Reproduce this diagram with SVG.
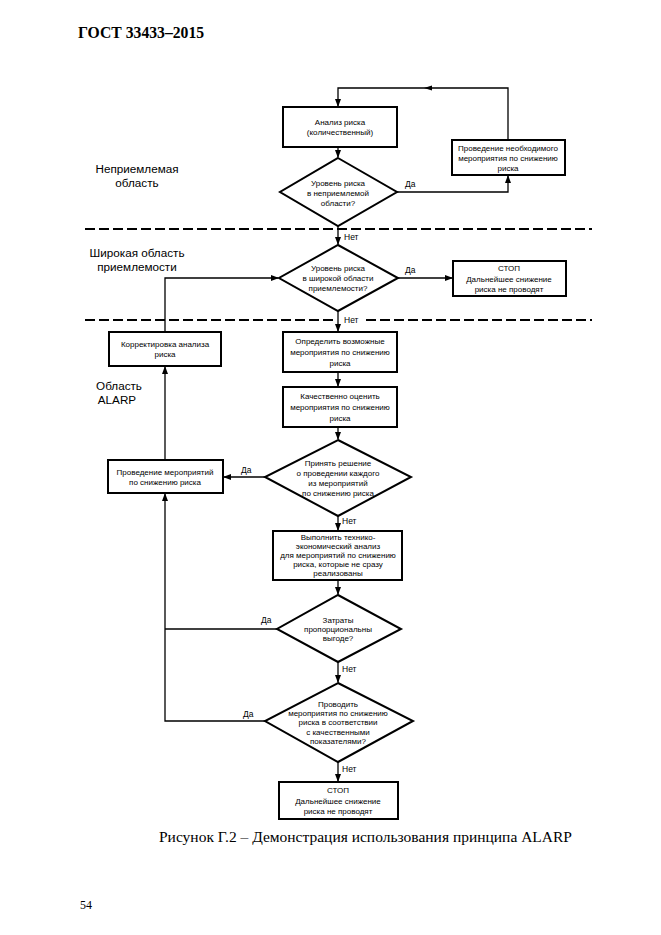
<svg xmlns="http://www.w3.org/2000/svg" width="661" height="935" viewBox="0 0 661 935">
<defs>
<marker id="ah" markerWidth="8" markerHeight="6" refX="7" refY="3" orient="auto" markerUnits="userSpaceOnUse">
<path d="M0,0 L8,3 L0,6 z" fill="#000"/>
</marker>
<style>
.box{fill:#fff;stroke:#000;stroke-width:2}
.dia{fill:#fff;stroke:#000;stroke-width:2}
.ln{fill:none;stroke:#000;stroke-width:1.3}
.dash{fill:none;stroke:#000;stroke-width:1.8;stroke-dasharray:10 4}
.t{font-family:"Liberation Sans",Arial,sans-serif;font-size:8px;text-anchor:middle;fill:#000}
.lbl{font-family:"Liberation Sans",Arial,sans-serif;font-size:8.5px;fill:#000}
.zone{font-family:"Liberation Sans",Arial,sans-serif;font-size:11.7px;text-anchor:middle;fill:#000}
.serif{font-family:"Liberation Serif","Times New Roman",serif;fill:#000}
</style>
</defs>
<rect width="661" height="935" fill="#fff"/>
<text class="serif" x="78" y="38" font-size="15.7" font-weight="bold">ГОСТ 33433–2015</text>

<g id="zones">
<text class="zone" x="137" y="173">Неприемлемая</text>
<text class="zone" x="137" y="187">область</text>
<text class="zone" x="137" y="257">Широкая область</text>
<text class="zone" x="137" y="271">приемлемости</text>
<text class="zone" x="119" y="390">Область</text>
<text class="zone" x="117" y="404">ALARP</text>
<path class="dash" d="M85,229 H592"/>
<path class="dash" d="M85,320 H336 M366,320 H592"/>
</g>

<g id="connectors">
<path class="ln" d="M508,140 V88 H338 V106" marker-end="url(#ah)"/>
<path d="M424,88 L432,85.5 L432,90.5 z" fill="#000"/>
<path class="ln" d="M338,147 V157" marker-end="url(#ah)"/>
<path class="ln" d="M397,192 H508 V176" marker-end="url(#ah)"/>
<path class="ln" d="M338,226 V244" marker-end="url(#ah)"/>
<path class="ln" d="M398,278 H452" marker-end="url(#ah)"/>
<path class="ln" d="M338,311 V331" marker-end="url(#ah)"/>
<path class="ln" d="M165,332 V278 H278" marker-end="url(#ah)"/>
<path class="ln" d="M338,372 V386" marker-end="url(#ah)"/>
<path class="ln" d="M338,427 V439" marker-end="url(#ah)"/>
<path class="ln" d="M265,477 H224" marker-end="url(#ah)"/>
<path class="ln" d="M165,460 V367" marker-end="url(#ah)"/>
<path class="ln" d="M338,516 V530" marker-end="url(#ah)"/>
<path class="ln" d="M338,580 V594" marker-end="url(#ah)"/>
<path class="ln" d="M277,629 H165"/>
<path class="ln" d="M265,721 H165 V494" marker-end="url(#ah)"/>
<path class="ln" d="M338,662 V682" marker-end="url(#ah)"/>
<path class="ln" d="M338,762 V781" marker-end="url(#ah)"/>
<text class="lbl" x="405" y="187">Да</text>
<text class="lbl" x="344" y="240">Нет</text>
<text class="lbl" x="405" y="273">Да</text>
<text class="lbl" x="344" y="323">Нет</text>
<text class="lbl" x="241" y="473">Да</text>
<text class="lbl" x="342" y="524">Нет</text>
<text class="lbl" x="261" y="623">Да</text>
<text class="lbl" x="342" y="672">Нет</text>
<text class="lbl" x="243" y="717">Да</text>
<text class="lbl" x="342" y="772">Нет</text>
</g>

<g id="n_analysis">
<rect class="box" x="283" y="107" width="114" height="40"/>
<text class="t" x="340" y="125">Анализ риска</text>
<text class="t" x="340" y="135">(количественный)</text>
</g>
<g id="n_measure_needed">
<rect class="box" x="452" y="140" width="113" height="35"/>
<text class="t" x="508" y="151">Проведение необходимого</text>
<text class="t" x="508" y="161">мероприятия по снижению</text>
<text class="t" x="508" y="171">риска</text>
</g>
<g id="n_dec_unacceptable">
<polygon class="dia" points="338,158 397,192 338,226 280,192"/>
<text class="t" x="338" y="186">Уровень риска</text>
<text class="t" x="338" y="196">в неприемлемой</text>
<text class="t" x="338" y="206">области?</text>
</g>
<g id="n_dec_broad">
<polygon class="dia" points="338,245 398,278 338,311 279,278"/>
<text class="t" x="338" y="271">Уровень риска</text>
<text class="t" x="338" y="281">в широкой области</text>
<text class="t" x="338" y="291">приемлемости?</text>
</g>
<g id="n_stop1">
<rect class="box" x="453" y="261" width="113" height="35"/>
<text class="t" x="509" y="271">СТОП</text>
<text class="t" x="509" y="282">Дальнейшее снижение</text>
<text class="t" x="509" y="292">риска не проводят</text>
</g>
<g id="n_correct">
<rect class="box" x="109" y="332" width="112" height="34"/>
<text class="t" x="165" y="347">Корректировка анализа</text>
<text class="t" x="165" y="357">риска</text>
</g>
<g id="n_define">
<rect class="box" x="283" y="332" width="114" height="40"/>
<text class="t" x="340" y="344">Определить возможные</text>
<text class="t" x="340" y="355">мероприятия по снижению</text>
<text class="t" x="340" y="366">риска</text>
</g>
<g id="n_quality">
<rect class="box" x="283" y="387" width="114" height="40"/>
<text class="t" x="340" y="399">Качественно оценить</text>
<text class="t" x="340" y="410">мероприятия по снижению</text>
<text class="t" x="340" y="421">риска</text>
</g>
<g id="n_dec_each">
<polygon class="dia" points="338,440 411,477 338,516 265,477"/>
<text class="t" x="338" y="466">Принять решение</text>
<text class="t" x="338" y="476">о проведении каждого</text>
<text class="t" x="338" y="486">из мероприятий</text>
<text class="t" x="338" y="496">по снижению риска</text>
</g>
<g id="n_perform">
<rect class="box" x="108" y="460" width="115" height="33"/>
<text class="t" x="165" y="475">Проведение мероприятий</text>
<text class="t" x="165" y="485">по снижению риска</text>
</g>
<g id="n_econ">
<rect class="box" x="273" y="531" width="129" height="49"/>
<text class="t" x="338" y="540">Выполнить технико-</text>
<text class="t" x="338" y="549">экономический анализ</text>
<text class="t" x="338" y="558">для мероприятий по снижению</text>
<text class="t" x="338" y="567">риска, которые не сразу</text>
<text class="t" x="338" y="576">реализованы</text>
</g>
<g id="n_dec_cost">
<polygon class="dia" points="338,595 401,629 338,662 277,629"/>
<text class="t" x="338" y="623">Затраты</text>
<text class="t" x="338" y="632">пропорциональны</text>
<text class="t" x="338" y="641">выгоде?</text>
</g>
<g id="n_dec_quality">
<polygon class="dia" points="338,683 413,721 338,762 265,721"/>
<text class="t" x="338" y="707">Проводить</text>
<text class="t" x="338" y="716">мероприятия по снижению</text>
<text class="t" x="338" y="725">риска в соответствии</text>
<text class="t" x="338" y="735">с качественными</text>
<text class="t" x="338" y="744">показателями?</text>
</g>
<g id="n_stop2">
<rect class="box" x="279" y="782" width="119" height="37"/>
<text class="t" x="338" y="793">СТОП</text>
<text class="t" x="338" y="804">Дальнейшее снижение</text>
<text class="t" x="338" y="814">риска не проводят</text>
</g>

<text class="serif" x="159" y="842" font-size="15.5">Рисунок Г.2 – Демонстрация использования принципа ALARP</text>
<text class="serif" x="80" y="909" font-size="12">54</text>
</svg>
